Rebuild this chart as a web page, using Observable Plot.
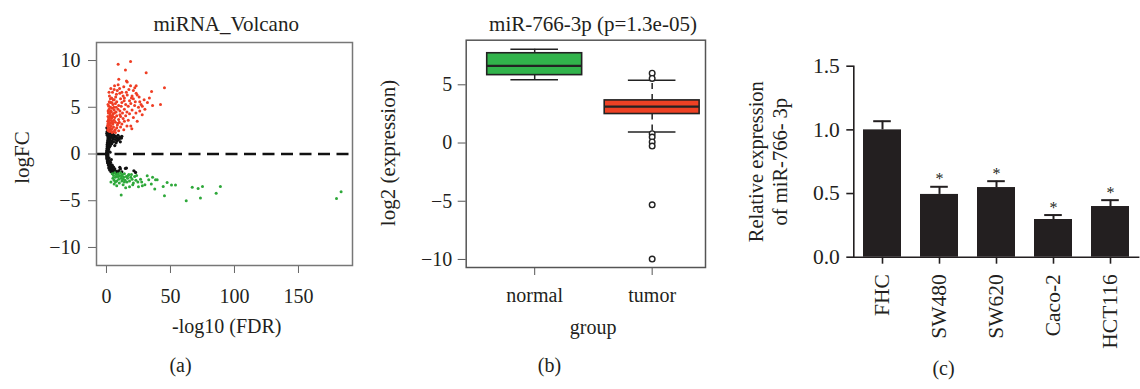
<!DOCTYPE html>
<html>
<head>
<meta charset="utf-8">
<script src="https://cdn.jsdelivr.net/npm/d3@7"></script>
<script src="https://cdn.jsdelivr.net/npm/@observablehq/plot@0.6"></script>
<style>
  html, body { margin: 0; padding: 0; background: #fff; }
  #root { position: relative; width: 1140px; height: 389px; overflow: hidden; background: #fff; }
  #root > svg { position: absolute; top: 0; }
</style>
</head>
<body>
<div id="root"></div>
<script>
// ---------- Panel (a): volcano ----------
const volcanoTitle = "miRNA_Volcano";
const volcanoXLabel = "-log10 (FDR)";
const volcanoYLabel = "logFC";
const volcanoXTicks = [0, 50, 100, 150];
const volcanoYTicks = [-10, -5, 0, 5, 10];
// [ -log10(FDR), logFC ]
const volcanoRed = [
[9.1,9.6],[18.8,9.9],[14.8,9.0],[31,8.7],[9.6,8.0],[15.6,7.8],[16.2,7.7],[6.3,7.3],[9.1,7.4],[13.5,7.2],[18.8,7.3],[23.2,7.3],[22.1,7.1],[45.3,7.1],[35.2,6.7],[2.3,6.2],[7.8,6.4],[10.4,6.5],[13,6.2],[16.2,6.3],[20,6.2],[23.2,6.5],[24,6.3],[42.2,5.3],[29.4,5.8],[27.9,4.2],[19.8,2.7],
[4,6.0],[6,5.8],[11,5.9],[14,6.0],[18,5.7],[21,5.9],[26,5.6],[8,5.6],
[3,5.5],[5,5.3],[7,5.4],[9.5,5.2],[12,5.5],[15,5.3],[17,5.1],[19,5.4],[22,5.2],[25,5.0],[28,5.1],[1.8,5.1],
[2,4.8],[3.5,4.6],[4.5,4.9],[6,4.7],[7.5,4.5],[9,4.8],[10.5,4.6],[12.5,4.4],[14,4.8],[16,4.5],[18,4.3],[20,4.7],[23,4.4],[1.5,4.4],[2.8,4.2],[5.2,4.3],
[1.2,4.0],[2,3.9],[3,4.1],[4,3.8],[5,4.0],[6.5,3.9],[8,4.1],[9.5,3.7],[11,4.0],[13,3.8],[15,4.1],[17,3.6],[21,3.9],
[1,3.5],[1.8,3.4],[2.5,3.6],[3.3,3.3],[4.2,3.5],[5,3.2],[6,3.6],[7,3.4],[8.5,3.1],[10,3.4],[12,3.2],[14,3.5],[16,3.0],
[0.8,3.0],[1.4,2.9],[2.1,3.1],[2.9,2.8],[3.6,3.0],[4.4,2.7],[5.5,2.9],[6.8,2.6],[8,2.8],[9.5,2.5],[11,2.9],[13.5,2.6],
[1.5,2.5],[2.5,2.4],[3.5,2.5],[4.5,2.3],[5.5,2.4],[7,2.3],
[1.3,4.6],[2.2,5.6],[3.1,5.9],[4.7,6.6],[6,6.9],[1.6,3.7],[2.6,4.4],[3.8,4.5],[4.2,5.5],[5.8,5.0],[7.2,6.1],[8.4,6.8],[10.2,7.0],[12,6.6],[11.5,5.1],[13.8,5.7],[15.5,6.6],[17.5,6.9],[19.5,6.0],[21,6.8],[25.5,6.1],[27,5.3],[30,4.8],[32,5.5],[33.5,6.0],[36,5.2],
[1.1,3.2],[1.9,3.8],[2.4,4.5],[3.2,5.0],[1.7,2.7],[2.7,3.3],[3.9,3.9],[4.8,3.4],[0.9,2.6],[1.2,5.3],[2.0,6.6],[3.4,7.0],[4.4,4.1],[6.3,4.4],[5.3,5.8],[7.6,5.0],[9,3.3],[10.5,4.2],[19,3.0],[24,3.5],[26,4.6],[22.5,5.6]
];
const volcanoGreen = [
[4.5,-2.1],[5.5,-2.3],[6.5,-2.0],[7,-2.5],[7.5,-2.2],[8.5,-2.4],[9,-2.1],[9.5,-2.7],[10.5,-2.3],[11,-2.0],[11.5,-2.6],[12,-2.9],[12.5,-2.2],[13.5,-2.5],[14,-2.1],[14.5,-2.8],[15.5,-2.4],[16,-3.0],[16.5,-2.6],[17.5,-2.2],[18,-2.9],[19,-2.5],[20,-2.7],[21,-3.1],[22,-2.4],[23,-2.8],[24.5,-3.0],
[26.6,-2.7],[33,-2.75],[38.3,-2.75],[3.5,-3.0],[6,-3.2],[8,-3.4],[10,-3.1],[13,-3.3],[15,-3.6],[18,-3.5],[20.5,-3.3],[25,-3.5],[28,-3.4],[30,-3.3],[35,-3.2],
[11.5,-4.4],[45.3,-4.46],[44.3,-3.47],[47.4,-3.04],[50.8,-3.32],[53.9,-3.32],[67,-3.57],[71.6,-3.68],[75,-3.47],[62.3,-5.0],[73.4,-4.7],[85.7,-4.2],[89,-3.47],[179.7,-4.75],[183.3,-4.03],
[5,-2.6],[6,-2.8],[8,-2.9],[9.5,-2.4],[12,-2.35],[13,-2.7],[17,-2.3],[19.5,-2.2],[14,-3.0],[7,-3.0],[23.5,-2.3],[27.5,-3.0],[36,-2.5],[39.6,-2.75],[37.7,-3.74],[31.8,-2.32]
];
const volcanoBlack = [
[0.1,0.0],[0.2,0.2],[0.1,-0.2],[0.3,0.4],[0.2,-0.4],[0.4,0.6],[0.5,-0.6],[0.6,0.8],[0.8,-0.8],[0.5,1.0],[1.2,-1.0],[0.7,1.2],[1.6,-1.2],[0.9,1.4],[2.1,-1.4],[1.1,1.6],[2.8,-1.6],[1.3,1.8],[3.6,-1.8],[1.6,2.0],[4.5,-1.95],
[0.3,0.1],[0.4,-0.1],[0.6,0.3],[0.8,-0.3],[1.0,0.5],[1.3,-0.5],[1.2,0.7],[1.8,-0.7],[1.5,0.9],[2.4,-0.9],[1.8,1.1],[3.0,-1.1],[2.2,1.3],[3.6,-1.3],[2.6,1.5],[4.4,-1.5],[3.0,1.7],[5.2,-1.7],[3.5,1.9],[6.2,-1.9],
[1.5,0.3],[2.0,-0.4],[2.5,0.8],[3.2,-0.9],[3.5,1.2],[4.5,-1.2],[4.2,1.4],[5.5,-1.4],[5.0,1.6],[6.5,-1.6],[6,1.8],[7.5,-1.85],[7,1.9],[8.5,-1.95],[8.5,1.7],[9.5,-1.8],
[0.2,2.2],[0.5,2.4],[0.8,2.6],[0.3,2.8],[1.0,2.3],[0.6,2.0],[1.1,2.1],
[11.7,1.7],[10.4,1.8],[9,1.5],[10.9,-1.6],[14.8,-1.54],[21.4,-1.79],[22.7,-1.97],[10.4,-1.43],[15.6,-1.5],[12,-1.9],[7.5,1.2],[6.5,0.9],[2.8,0.2],[3.8,-0.6],[0.9,0.0],[1.2,-0.1],
[2,2.4],[3,2.2],[4,2.0],[5,2.1],[6,2.0],[7.5,1.8],[9,2.0],[10,1.6],[8,1.4],[5.5,1.3],[4,1.1],[3,0.9],[2,0.7],[1.5,0.5],[2.5,1.9],[3.8,2.3],[1.5,2.6],[2.2,2.7],[6.8,1.55],[4.8,1.75],[12,1.9],[10.8,1.3],
[0.6,-0.5],[1,-0.9],[1.5,-1.0],[2,-1.2],[2.6,-1.3],[3.2,-1.5],[4,-1.6],[4.8,-1.8],[5.7,-1.85],[6.8,-1.95],[7.8,-2.0],[3.5,-1.9],[2.5,-1.7],[1.8,-1.5],[5,-2.0]
];

// ---------- Panel (b): boxplot ----------
const boxTitle = "miR-766-3p (p=1.3e-05)";
const boxXLabel = "group";
const boxYLabel = "log2 (expression)";
const boxGroups = ["normal", "tumor"];
const boxColors = ["#31b34b", "#ee4124"];
const boxWhiskerLow = [5.43, 0.94];
const boxQ1 = [5.83, 2.49];
const boxMedian = [6.63, 3.12];
const boxQ3 = [7.71, 3.66];
const boxWhiskerHigh = [8.05, 5.40];
const tumorOutliers = [6.0, 5.55, 0.8, 0.51, 0.09, -0.26, -5.31, -9.97];
const boxYTicks = [-10, -5, 0, 5];

// ---------- Panel (c): bar chart ----------
const cellLines = ["FHC", "SW480", "SW620", "Caco-2", "HCT116"];
const relExpression = [1.0, 0.493, 0.547, 0.296, 0.398];
const relError = [0.068, 0.060, 0.050, 0.035, 0.050];
const significance = ["", "*", "*", "*", "*"];
const barYTicks = [0, 0.5, 1.0, 1.5];
const barYLabel1 = "Relative expression";
const barYLabel2 = "of miR-766- 3p";

const FONT = "'Liberation Serif', 'DejaVu Serif', serif";
const TEXT = "#231f20";
const fmtMinus = d => d < 0 ? "\u2212" + Math.abs(d) : String(d);
const baseStyle = {fontFamily: FONT, fontSize: "20px", color: TEXT, background: "transparent", overflow: "visible"};
const root = document.getElementById("root");

// ===== Panel a =====
const redPts = volcanoRed.map(([x, y]) => ({x, y}));
const greenPts = volcanoGreen.map(([x, y]) => ({x, y}));
const blackPts = volcanoBlack.map(([x, y]) => ({x, y}));

const plotA = Plot.plot({
  width: 380, height: 389,
  marginLeft: 96, marginRight: 28, marginTop: 42, marginBottom: 124,
  x: {domain: [-7.8, 192.2]},
  y: {domain: [-11.93, 11.93]},
  style: baseStyle,
  marks: [
    Plot.axisY({ticks: volcanoYTicks, tickSize: 8, tickPadding: 8, tickFormat: fmtMinus, label: null, stroke: "#666"}),
    Plot.axisX({ticks: volcanoXTicks, tickSize: 8, tickPadding: 15, label: null, stroke: "#666"}),
    Plot.dot(blackPts, {x: "x", y: "y", r: 1.6, fill: "#111"}),
    Plot.dot(redPts, {x: "x", y: "y", r: 1.5, fill: "#ef3e24"}),
    Plot.dot(greenPts, {x: "x", y: "y", r: 1.5, fill: "#2ea83a"}),
    Plot.ruleY([0], {stroke: "#111", strokeWidth: 2.6, strokeDasharray: "12,6.5"}),
    Plot.frame({stroke: "#777", strokeWidth: 1.5}),
    Plot.text([volcanoTitle], {frameAnchor: "top", textAnchor: "middle", dx: 1.7, dy: -26.2, fontSize: 21, fill: TEXT}),
    Plot.text([volcanoXLabel], {frameAnchor: "bottom", textAnchor: "middle", dx: 2.3, dy: 67.6, fontSize: 20, fill: TEXT}),
    Plot.text(["(a)"], {frameAnchor: "bottom", textAnchor: "middle", dx: -44, dy: 106.6, fontSize: 20, fill: TEXT}),
    Plot.text([volcanoYLabel], {frameAnchor: "left", textAnchor: "middle", rotate: -90, dx: -74.4, dy: 3.5, fontSize: 21, fill: TEXT})
  ]
});
plotA.style.left = "0px";
root.appendChild(plotA);

// ===== Panel b =====
const boxData = boxGroups.map((g, i) => ({
  g, pos: i + 1, color: boxColors[i],
  lo: boxWhiskerLow[i], q1: boxQ1[i], med: boxMedian[i], q3: boxQ3[i], hi: boxWhiskerHigh[i]
}));
const outlierData = tumorOutliers.map(v => ({pos: 2, v}));
const BOX_HALF = 0.404, CAP_HALF = 0.2025;

const plotB = Plot.plot({
  width: 340, height: 389,
  marginLeft: 85.7, marginRight: 15, marginTop: 39.7, marginBottom: 122,
  x: {domain: [0.417, 2.454]},
  y: {domain: [-10.69, 8.83]},
  style: baseStyle,
  marks: [
    Plot.axisY({ticks: boxYTicks, tickSize: 8, tickPadding: 6, tickFormat: fmtMinus, label: null, stroke: "#555"}),
    Plot.axisX({ticks: [1, 2], tickFormat: d => boxGroups[d - 1], tickSize: 8, tickPadding: 12.5, label: null, stroke: "#555"}),
    Plot.ruleX(boxData, {x: "pos", y1: "q3", y2: "hi", stroke: "#222", strokeWidth: 1.5, strokeDasharray: "6,5"}),
    Plot.ruleX(boxData, {x: "pos", y1: "q1", y2: "lo", stroke: "#222", strokeWidth: 1.5, strokeDasharray: "6,5"}),
    Plot.ruleY(boxData, {x1: d => d.pos - CAP_HALF, x2: d => d.pos + CAP_HALF, y: "hi", stroke: "#222", strokeWidth: 1.5}),
    Plot.ruleY(boxData, {x1: d => d.pos - CAP_HALF, x2: d => d.pos + CAP_HALF, y: "lo", stroke: "#222", strokeWidth: 1.5}),
    Plot.rect(boxData, {x1: d => d.pos - BOX_HALF, x2: d => d.pos + BOX_HALF, y1: "q1", y2: "q3", fill: "color", stroke: "#222", strokeWidth: 1.6}),
    Plot.ruleY(boxData, {x1: d => d.pos - BOX_HALF, x2: d => d.pos + BOX_HALF, y: "med", stroke: "#222", strokeWidth: 2.2}),
    Plot.dot(outlierData, {x: "pos", y: "v", r: 2.8, stroke: "#222", strokeWidth: 1.4, fill: "white"}),
    Plot.frame({stroke: "#555", strokeWidth: 1.5}),
    Plot.text([boxTitle], {frameAnchor: "top", textAnchor: "middle", dx: 7.15, dy: -23.9, fontSize: 21, fill: TEXT}),
    Plot.text([boxXLabel], {frameAnchor: "bottom", textAnchor: "middle", dx: 7.35, dy: 66.6, fontSize: 20, fill: TEXT}),
    Plot.text(["(b)"], {frameAnchor: "bottom", textAnchor: "middle", dx: -36.35, dy: 104.1, fontSize: 20, fill: TEXT}),
    Plot.text([boxYLabel], {frameAnchor: "left", textAnchor: "middle", rotate: -90, dx: -78.1, dy: -0.85, fontSize: 21, fill: TEXT})
  ]
});
plotB.style.left = "380px";
root.appendChild(plotB);

// ===== Panel c =====
const barData = cellLines.map((c, i) => ({
  c, v: relExpression[i], top: relExpression[i] + relError[i], sig: significance[i]
}));
const plotC = Plot.plot({
  width: 400, height: 389,
  marginLeft: 113.3, marginRight: 0.6, marginTop: 65.7, marginBottom: 132.3,
  x: {domain: cellLines, paddingInner: 0.336, paddingOuter: 0.164},
  y: {domain: [0, 1.5]},
  style: {...baseStyle, fontSize: "21.5px"},
  marks: [
    Plot.barY(barData, {x: "c", y: "v", fill: "#231f20"}),
    Plot.ruleX(barData, {x: "c", y1: "v", y2: "top", stroke: "#231f20", strokeWidth: 2}),
    Plot.tickY(barData, {x: "c", y: "top", insetLeft: 10.2, insetRight: 10.2, stroke: "#231f20", strokeWidth: 2}),
    Plot.text(barData.filter(d => d.sig), {x: "c", y: "top", text: "sig", dy: -7.6, fontSize: 16, fill: TEXT}),
    Plot.ruleY([0], {stroke: "#231f20", strokeWidth: 1.6}),
    Plot.frame({anchor: "left", stroke: "#231f20", strokeWidth: 1.6}),
    Plot.axisY({ticks: barYTicks, tickFormat: d3.format(".1f"), tickSize: 7, tickPadding: 7, label: null, stroke: "#231f20", strokeWidth: 1.6}),
    Plot.axisX({tickRotate: -90, tickSize: 7, tickPadding: 10, label: null, stroke: "#231f20", strokeWidth: 1.6}),
    Plot.text([barYLabel1], {frameAnchor: "left", textAnchor: "middle", rotate: -90, dx: -97.2, dy: 0, fontSize: 20.5, fill: TEXT}),
    Plot.text([barYLabel2], {frameAnchor: "left", textAnchor: "middle", rotate: -90, dx: -73.7, dy: 0, fontSize: 20.5, fill: TEXT}),
    Plot.text(["(c)"], {frameAnchor: "bottom", textAnchor: "middle", dx: -53.35, dy: 117.9, fontSize: 20, fill: TEXT})
  ]
});
plotC.style.left = "740px";
root.appendChild(plotC);
</script>
</body>
</html>
